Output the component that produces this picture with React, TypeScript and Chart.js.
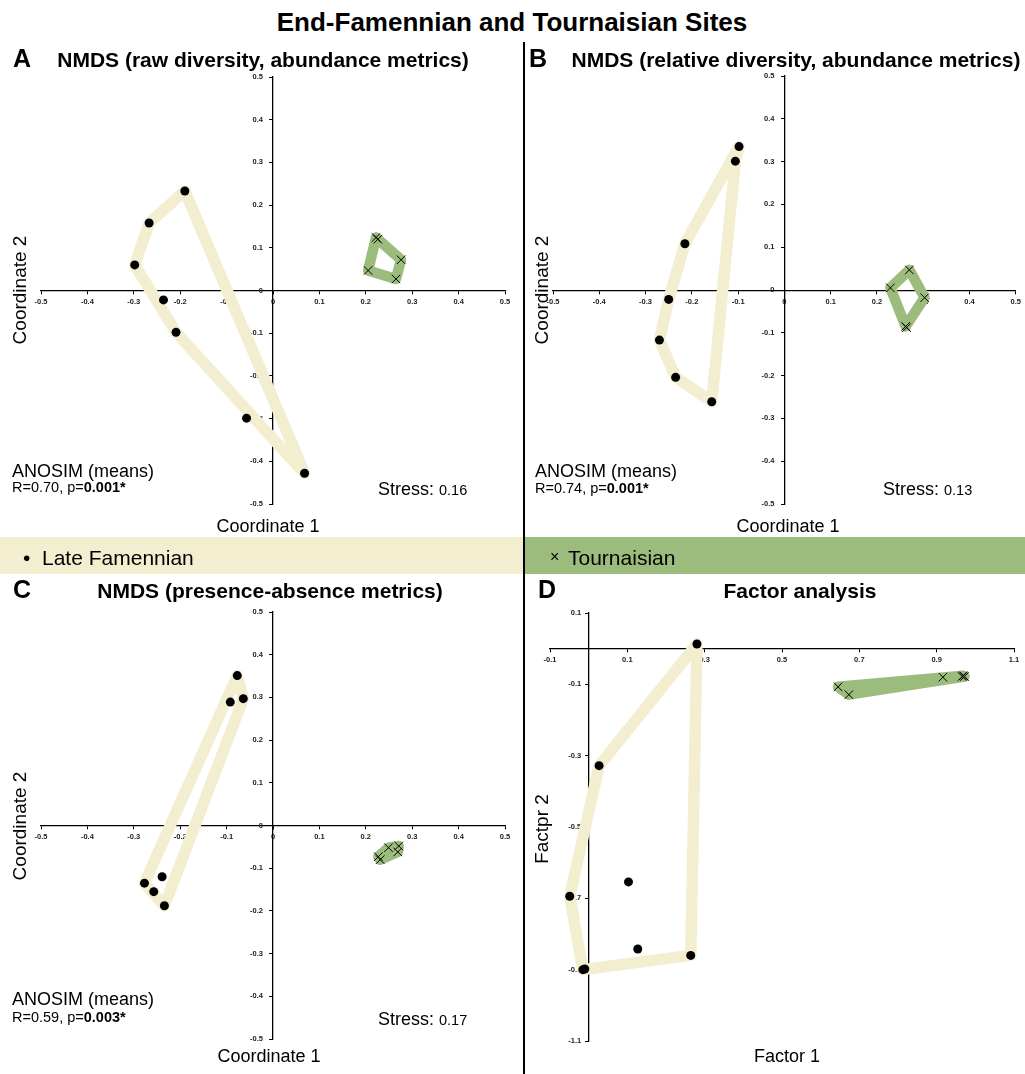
import React, { useEffect, useRef } from 'react';
import { Chart, registerables } from 'chart.js';

Chart.register(...registerables);

const FONT = '"Liberation Sans", Arial, Helvetica, sans-serif';
const YELLOW = '#F3EED0';
const GREEN = '#9CBC7D';

// Panel A: NMDS (raw diversity, abundance metrics)
const aFamX = [-0.19, -0.267, -0.298, -0.236, -0.209, -0.057, 0.068];
const aFamY = [0.233, 0.158, 0.06, -0.022, -0.098, -0.299, -0.428];
const aFamHull = [0, 1, 2, 4, 6];
const aTouX = [0.222, 0.226, 0.276, 0.265, 0.205];
const aTouY = [0.124, 0.12, 0.072, 0.027, 0.047];
const aTouHull = [0, 2, 3, 4];

// Panel B: NMDS (relative diversity, abundance metrics)
const bFamX = [-0.098, -0.106, -0.215, -0.25, -0.27, -0.235, -0.157];
const bFamY = [0.335, 0.301, 0.108, -0.022, -0.117, -0.204, -0.261];
const bFamHull = [0, 2, 3, 4, 5, 6, 1];
const bTouX = [0.27, 0.229, 0.303, 0.262, 0.264];
const bTouY = [0.047, 0.005, -0.018, -0.085, -0.088];
const bTouHull = [0, 2, 3, 1];

// Panel C: NMDS (presence-absence metrics)
const cFamX = [-0.077, -0.064, -0.092, -0.239, -0.277, -0.257, -0.234];
const cFamY = [0.351, 0.297, 0.289, -0.12, -0.135, -0.155, -0.188];
const cFamHull = [0, 1, 6, 4];
const cTouX = [0.227, 0.231, 0.249, 0.269, 0.271];
const cTouY = [-0.073, -0.08, -0.052, -0.062, -0.048];
const cTouHull = [0, 2, 4, 3, 1];

// Panel D: Factor analysis
const dFamX = [0.28, 0.027, -0.049, 0.103, 0.127, 0.264, -0.015, -0.01];
const dFamY = [0.013, -0.328, -0.694, -0.654, -0.842, -0.86, -0.9, -0.898];
const dFamHull = [0, 1, 2, 6, 5];
const dTouX = [0.645, 0.673, 0.916, 0.966, 0.972, 0.969];
const dTouY = [-0.107, -0.129, -0.08, -0.078, -0.078, -0.076];
const dTouHull = [0, 5, 4, 1];

// Axis ranges
const nmdsRange = { min: -0.5, max: 0.5, step: 0.1 };
const dXRange = { min: -0.1, max: 1.1, step: 0.2 };
const dYRange = { min: -1.1, max: 0.1, step: 0.2 };

const fmt = (v: number) => String(Math.round(v * 10) / 10);

type PanelProps = {
  left: number; top: number; width: number; height: number;
  pad: { left: number; right: number; top: number; bottom: number };
  famX: number[]; famY: number[]; famHull: number[];
  touX: number[]; touY: number[]; touHull: number[];
  fillTou: boolean;
  xr: { min: number; max: number; step: number };
  yr: { min: number; max: number; step: number };
  center: boolean;
};

function Panel(p: PanelProps) {
  const ref = useRef<HTMLCanvasElement>(null);
  useEffect(() => {
    const pts = (xs: number[], ys: number[]) => xs.map((x, i) => ({ x, y: ys[i] }));
    const hull = (xs: number[], ys: number[], idx: number[]) =>
      [...idx, idx[0]].map((i) => ({ x: xs[i], y: ys[i] }));
    const tickFont: any = { family: FONT, size: 7.5, weight: 'bold' };
    const grid: any = { drawOnChartArea: false, drawTicks: true, tickLength: 3, color: '#000', lineWidth: 1 };
    const border: any = { display: true, color: '#000', width: 1.3 };
    const chart = new Chart(ref.current as HTMLCanvasElement, {
      type: 'scatter',
      data: {
        datasets: [
          {
            label: 'Late Famennian',
            data: pts(p.famX, p.famY),
            pointStyle: 'circle',
            pointRadius: 4.5,
            backgroundColor: '#000',
            borderColor: '#000',
            borderWidth: 0,
            order: 0,
          } as any,
          {
            label: 'Tournaisian',
            data: pts(p.touX, p.touY),
            pointStyle: 'crossRot',
            pointRadius: 6,
            borderColor: '#000',
            borderWidth: 1,
            order: 0,
          } as any,
          {
            label: 'hullFam',
            data: hull(p.famX, p.famY, p.famHull),
            showLine: true,
            borderColor: YELLOW,
            borderWidth: 11.5,
            pointRadius: 0,
            borderJoinStyle: 'round',
            borderCapStyle: 'round',
            fill: false,
            tension: 0,
            order: 1,
          } as any,
          {
            label: 'hullTou',
            data: hull(p.touX, p.touY, p.touHull),
            showLine: true,
            borderColor: GREEN,
            backgroundColor: GREEN,
            borderWidth: 10.5,
            pointRadius: 0,
            borderJoinStyle: 'round',
            borderCapStyle: 'round',
            fill: p.fillTou ? 'shape' : false,
            tension: 0,
            order: 1,
          } as any,
        ],
      },
      options: {
        responsive: false,
        animation: false,
        events: [],
        layout: { padding: p.pad },
        plugins: { legend: { display: false }, tooltip: { enabled: false } },
        scales: {
          x: {
            type: 'linear',
            min: p.xr.min,
            max: p.xr.max,
            position: p.center ? 'center' : { y: 0 },
            afterFit: (s: any) => { s.height = 0; },
            ticks: {
              stepSize: p.xr.step,
              font: tickFont,
              color: '#222',
              padding: 4,
              maxRotation: 0,
              autoSkip: false,
              callback: (v: any) => fmt(Number(v)),
            },
            grid,
            border,
          },
          y: {
            type: 'linear',
            min: p.yr.min,
            max: p.yr.max,
            position: p.center ? 'center' : { x: 0 },
            afterFit: (s: any) => { s.width = 0; },
            ticks: {
              stepSize: p.yr.step,
              font: tickFont,
              color: '#222',
              padding: 7,
              autoSkip: false,
              callback: (v: any) => fmt(Number(v)) + (p.center ? '' : '\u2002\u2002'),
            },
            grid,
            border,
          },
        },
      } as any,
    });
    return () => chart.destroy();
  }, []);
  return (
    <canvas
      ref={ref}
      width={p.width}
      height={p.height}
      style={{ position: 'absolute', left: p.left, top: p.top, width: p.width, height: p.height }}
    />
  );
}

type TProps = {
  x: number; base: number; size: number; bold?: boolean;
  align?: 'left' | 'center' | 'right'; children: React.ReactNode;
};

function T({ x, base, size, bold, align = 'left', children }: TProps) {
  const top = base - 0.8465 * size;
  const transform = align === 'center' ? 'translateX(-50%)' : align === 'right' ? 'translateX(-100%)' : undefined;
  return (
    <div
      style={{
        position: 'absolute', left: x, top, fontSize: size, lineHeight: `${size}px`,
        fontWeight: bold ? 'bold' : 'normal', whiteSpace: 'nowrap', transform, color: '#000',
      }}
    >
      {children}
    </div>
  );
}

function VT({ cx, cy, size, children }: { cx: number; cy: number; size: number; children: React.ReactNode }) {
  return (
    <div
      style={{
        position: 'absolute', left: cx, top: cy, fontSize: size, lineHeight: `${size}px`,
        whiteSpace: 'nowrap', transform: 'translate(-50%, -50%) rotate(-90deg)', color: '#000',
      }}
    >
      {children}
    </div>
  );
}

export default function App() {
  return (
    <div
      style={{
        position: 'absolute', left: 0, top: 0, width: 1025, height: 1074,
        background: '#fff', fontFamily: FONT, overflow: 'hidden',
      }}
    >
      {/* legend bands */}
      <div style={{ position: 'absolute', left: 0, top: 537, width: 523, height: 37, background: YELLOW }} />
      <div style={{ position: 'absolute', left: 524, top: 537, width: 501, height: 37, background: GREEN }} />
      {/* divider */}
      <div style={{ position: 'absolute', left: 523, top: 42, width: 1.5, height: 1032, background: '#000' }} />

      <Panel left={0} top={60} width={520} height={470}
        pad={{ left: 41, right: 15, top: 17, bottom: 26 }}
        famX={aFamX} famY={aFamY} famHull={aFamHull}
        touX={aTouX} touY={aTouY} touHull={aTouHull} fillTou={false}
        xr={nmdsRange} yr={nmdsRange} center={true} />
      <Panel left={525} top={60} width={500} height={470}
        pad={{ left: 28, right: 6, top: 16, bottom: 26 }}
        famX={bFamX} famY={bFamY} famHull={bFamHull}
        touX={bTouX} touY={bTouY} touHull={bTouHull} fillTou={false}
        xr={nmdsRange} yr={nmdsRange} center={true} />
      <Panel left={0} top={595} width={520} height={470}
        pad={{ left: 41, right: 15, top: 17, bottom: 26 }}
        famX={cFamX} famY={cFamY} famHull={cFamHull}
        touX={cTouX} touY={cTouY} touHull={cTouHull} fillTou={true}
        xr={nmdsRange} yr={nmdsRange} center={true} />
      <Panel left={525} top={595} width={500} height={470}
        pad={{ left: 25, right: 11, top: 18, bottom: 24 }}
        famX={dFamX} famY={dFamY} famHull={dFamHull}
        touX={dTouX} touY={dTouY} touHull={dTouHull} fillTou={true}
        xr={dXRange} yr={dYRange} center={false} />

      <T x={512} base={31} size={26} bold align="center">End-Famennian and Tournaisian Sites</T>

      <T x={13} base={67} size={25} bold>A</T>
      <T x={263} base={67} size={21} bold align="center">NMDS (raw diversity, abundance metrics)</T>
      <T x={529} base={67} size={25} bold>B</T>
      <T x={796} base={67} size={21} bold align="center">NMDS (relative diversity, abundance metrics)</T>
      <T x={13} base={598} size={25} bold>C</T>
      <T x={270} base={598} size={21} bold align="center">NMDS (presence-absence metrics)</T>
      <T x={538} base={598} size={25} bold>D</T>
      <T x={800} base={598} size={21} bold align="center">Factor analysis</T>

      <VT cx={19} cy={290} size={19}>Coordinate 2</VT>
      <VT cx={541} cy={290} size={19}>Coordinate 2</VT>
      <VT cx={19} cy={826} size={19}>Coordinate 2</VT>
      <VT cx={541} cy={829} size={19}>Factpr 2</VT>

      <T x={268} base={532} size={18} align="center">Coordinate 1</T>
      <T x={788} base={532} size={18} align="center">Coordinate 1</T>
      <T x={269} base={1062} size={18} align="center">Coordinate 1</T>
      <T x={787} base={1062} size={18} align="center">Factor 1</T>

      <T x={12} base={477} size={18}>ANOSIM (means)</T>
      <T x={12} base={492} size={14.5}>R=0.70, p=<b>0.001*</b></T>
      <T x={378} base={495} size={18}>Stress: <span style={{ fontSize: 14.5 }}>0.16</span></T>

      <T x={535} base={477} size={18}>ANOSIM (means)</T>
      <T x={535} base={493} size={14.5}>R=0.74, p=<b>0.001*</b></T>
      <T x={883} base={495} size={18}>Stress: <span style={{ fontSize: 14.5 }}>0.13</span></T>

      <T x={12} base={1005} size={18}>ANOSIM (means)</T>
      <T x={12} base={1022} size={14.5}>R=0.59, p=<b>0.003*</b></T>
      <T x={378} base={1025} size={18}>Stress: <span style={{ fontSize: 14.5 }}>0.17</span></T>

      <T x={23} base={565} size={21}>•</T>
      <T x={42} base={565} size={21}>Late Famennian</T>
      <T x={550} base={563} size={16}>×</T>
      <T x={568} base={565} size={21}>Tournaisian</T>
    </div>
  );
}
